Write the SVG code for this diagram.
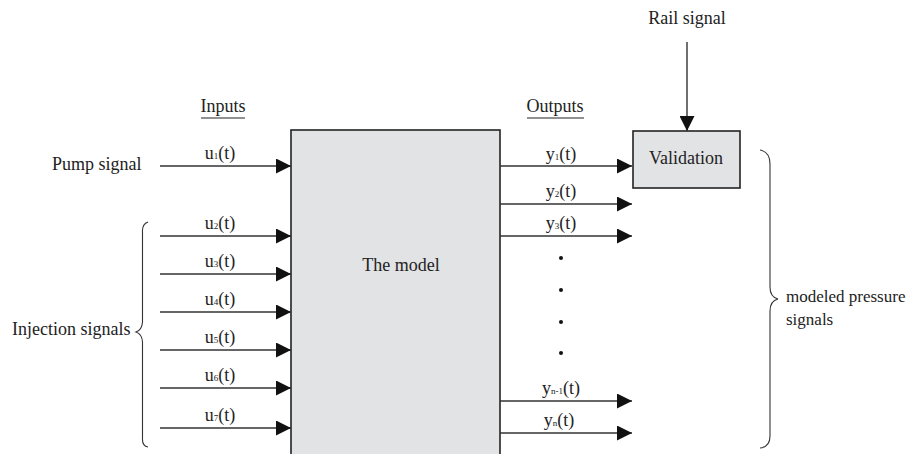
<svg xmlns="http://www.w3.org/2000/svg" width="911" height="454" viewBox="0 0 911 454">
  <style>
    text { font-family: "Liberation Serif", "Times New Roman", serif; font-size: 18px; fill: #222; }
    .c { text-anchor: middle; }
    .sub { font-size: 9px; }
    .side { font-size: 17px; }
    .wire { stroke: #333; stroke-width: 1.4; fill: none; }
    .box { fill: #e2e3e5; stroke: #222; stroke-width: 1.6; }
    .brace { stroke: #333; stroke-width: 1.1; fill: none; }
  </style>
  <defs>
    <marker id="arrow" markerUnits="userSpaceOnUse" markerWidth="15" markerHeight="15" refX="15" refY="7.5" orient="auto">
      <path d="M0,0 L15,7.5 L0,15 z" fill="#111"/>
    </marker>
  </defs>

  <rect width="911" height="454" fill="#fff"/>

  <!-- main model block -->
  <g id="model">
    <rect class="box" x="291" y="130" width="209" height="340"/>
    <text class="c" x="401" y="271">The model</text>
  </g>

  <!-- validation block -->
  <g id="validation">
    <rect class="box" x="633" y="131" width="107" height="57"/>
    <text class="c" x="686" y="164">Validation</text>
  </g>

  <g id="rail-signal">
    <text class="c" x="687" y="24">Rail signal</text>
  </g>

  <g id="pump-signal">
    <text x="52" y="170">Pump signal</text>
  </g>

  <g id="injection-signals">
    <text x="12" y="335">Injection signals</text>
    <path class="brace" d="M148,222 Q142,224 142.5,232 L142.5,322 Q142,330 136,332 Q142,334 142.5,342 L142.5,438 Q142,446 148,447"/>
  </g>

  <g id="modeled-pressure">
    <text class="side" x="786" y="302">modeled pressure</text>
    <text class="side" x="786" y="325">signals</text>
    <path class="brace" d="M760,150 Q770,152 770,164 L770,287 Q770,297 778,299 Q770,301 770,311 L770,436 Q770,447 760,448"/>
  </g>

  <!-- headings -->
  <g id="headings">
    <text class="c" x="223" y="112">Inputs</text>
    <line x1="201" y1="118" x2="245" y2="118" stroke="#222" stroke-width="1.2"/>
    <text class="c" x="555" y="112">Outputs</text>
    <line x1="527" y1="118" x2="584" y2="118" stroke="#222" stroke-width="1.2"/>
  </g>

  <!-- connectors -->
  <g id="connectors">
    <line class="wire" x1="687" y1="42" x2="687" y2="131" marker-end="url(#arrow)"/>

    <line class="wire" x1="160" y1="166" x2="291" y2="166" marker-end="url(#arrow)"/>
    <line class="wire" x1="160" y1="236" x2="291" y2="236" marker-end="url(#arrow)"/>
    <line class="wire" x1="160" y1="274" x2="291" y2="274" marker-end="url(#arrow)"/>
    <line class="wire" x1="160" y1="312" x2="291" y2="312" marker-end="url(#arrow)"/>
    <line class="wire" x1="160" y1="350" x2="291" y2="350" marker-end="url(#arrow)"/>
    <line class="wire" x1="160" y1="388" x2="291" y2="388" marker-end="url(#arrow)"/>
    <line class="wire" x1="160" y1="428" x2="291" y2="428" marker-end="url(#arrow)"/>

    <line class="wire" x1="500" y1="166" x2="632" y2="166" marker-end="url(#arrow)"/>
    <line class="wire" x1="500" y1="204" x2="632" y2="204" marker-end="url(#arrow)"/>
    <line class="wire" x1="500" y1="236" x2="632" y2="236" marker-end="url(#arrow)"/>
    <line class="wire" x1="500" y1="401" x2="632" y2="401" marker-end="url(#arrow)"/>
    <line class="wire" x1="500" y1="433" x2="632" y2="433" marker-end="url(#arrow)"/>
  </g>

  <!-- signal labels -->
  <g id="input-labels">
    <text class="c" x="220" y="159">u<tspan class="sub">1</tspan>(t)</text>
    <text class="c" x="220" y="229">u<tspan class="sub">2</tspan>(t)</text>
    <text class="c" x="220" y="267">u<tspan class="sub">3</tspan>(t)</text>
    <text class="c" x="220" y="305">u<tspan class="sub">4</tspan>(t)</text>
    <text class="c" x="220" y="343">u<tspan class="sub">5</tspan>(t)</text>
    <text class="c" x="220" y="381">u<tspan class="sub">6</tspan>(t)</text>
    <text class="c" x="220" y="421">u<tspan class="sub">7</tspan>(t)</text>
  </g>

  <g id="output-labels">
    <text class="c" x="561" y="160">y<tspan class="sub">1</tspan>(t)</text>
    <text class="c" x="561" y="197">y<tspan class="sub">2</tspan>(t)</text>
    <text class="c" x="561" y="229">y<tspan class="sub">3</tspan>(t)</text>
    <text class="c" x="561" y="394">y<tspan class="sub">n-1</tspan>(t)</text>
    <text class="c" x="559" y="426">y<tspan class="sub">n</tspan>(t)</text>
  </g>

  <g id="ellipsis" fill="#111">
    <circle cx="561" cy="258" r="2"/>
    <circle cx="561" cy="290" r="2"/>
    <circle cx="561" cy="322" r="2"/>
    <circle cx="561" cy="353" r="2"/>
  </g>
</svg>
